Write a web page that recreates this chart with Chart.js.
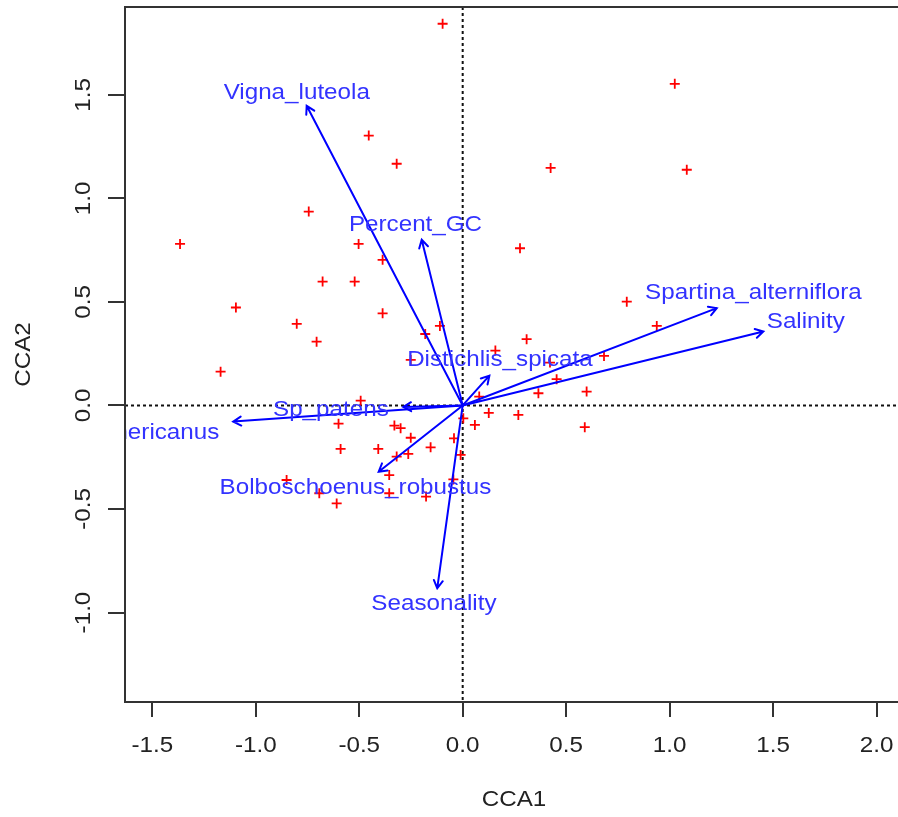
<!DOCTYPE html>
<html>
<head>
<meta charset="utf-8">
<script src="https://cdn.jsdelivr.net/npm/chart.js@4.4.0/dist/chart.umd.min.js"></script>
<style>
  html, body { margin: 0; padding: 0; background: #fff; overflow: hidden; width: 898px; height: 817px; }
  canvas { display: block; }
</style>
</head>
<body>
<canvas id="cca" width="920" height="817"></canvas>
<script>
// Site scores (CCA1, CCA2)
const siteX = [-0.097, -0.454, -0.319, -0.744, -1.366, -0.503, 1.025, 0.425, 1.083, 0.277,
  -0.387, -0.677, -0.522, -1.096, -0.387, -0.802, -0.706, -0.181, -0.110, -1.170,
  0.158, -0.251, -0.493, 0.080, 0.126, -0.600, -0.330, -0.300, 0.003, 0.059,
  -0.251, -0.042, -0.590, -0.408, -0.155, -0.263, -0.010, -0.319, -0.355, -0.045,
  -0.693, -0.355, -0.851, -0.177, -0.609, 0.590, 0.793, 0.938, 0.309, 0.683,
  0.422, 0.454, 0.366, 0.599, 0.269];
const siteY = [1.843, 1.303, 1.167, 0.936, 0.780, 0.780, 1.553, 1.147, 1.138, 0.759,
  0.703, 0.598, 0.598, 0.473, 0.445, 0.394, 0.308, 0.345, 0.384, 0.163,
  0.265, 0.220, 0.023, 0.043, -0.036, -0.088, -0.097, -0.110, -0.062, -0.094,
  -0.156, -0.159, -0.210, -0.210, -0.202, -0.234, -0.239, -0.247, -0.336, -0.357,
  -0.424, -0.424, -0.360, -0.440, -0.473, -0.105, 0.501, 0.384, 0.320, 0.239,
  0.207, 0.127, 0.059, 0.067, -0.046];

// Biplot arrows for the constraining variables
const envNames = ['Vigna_luteola', 'Percent_GC', 'Spartina_alterniflora', 'Salinity',
  'Distichlis_spicata', 'Sp_patens', 'Schoenoplectus_americanus', 'Bolboschoenus_robustus', 'Seasonality'];
const envX = [-0.754, -0.198, 1.228, 1.453, 0.129, -0.287, -1.109, -0.406, -0.123];
const envY = [1.447, 0.800, 0.470, 0.357, 0.144, -0.007, -0.078, -0.320, -0.883];
// Label centres for each arrow
const labelX = [-0.802, -0.228, 1.405, 1.658, 0.180, -0.637, -1.927, -0.518, -0.139];
const labelY = [1.508, 0.872, 0.542, 0.405, 0.220, -0.022, -0.135, -0.400, -0.960];

const xTicks = [-1.5, -1.0, -0.5, 0.0, 0.5, 1.0, 1.5, 2.0];
const yTicks = [-1.0, -0.5, 0.0, 0.5, 1.0, 1.5];

const FONT = '22px "Liberation Sans", Arial, sans-serif';
const STRETCH = 1.1;
const INK = '#222222';
const ARROW = '#0000ff';
const LABEL = '#3333ff';

function drawText(ctx, str, x, y, rot) {
  ctx.save();
  ctx.translate(x, y);
  if (rot) ctx.rotate(rot);
  ctx.scale(STRETCH, 1);
  ctx.fillText(str, 0, 0);
  ctx.restore();
}

const biplot = {
  id: 'biplot',
  beforeDatasetsDraw(chart) {
    const { ctx, chartArea: a, scales: { x, y } } = chart;
    ctx.save();
    ctx.beginPath();
    ctx.rect(a.left, a.top, a.right - a.left, a.bottom - a.top);
    ctx.clip();
    ctx.strokeStyle = '#111111';
    ctx.lineWidth = 2;
    ctx.setLineDash([3, 3]);
    const x0 = x.getPixelForValue(0), y0 = y.getPixelForValue(0);
    ctx.beginPath();
    ctx.moveTo(x0, a.top); ctx.lineTo(x0, a.bottom);
    ctx.moveTo(a.left, y0); ctx.lineTo(a.right, y0);
    ctx.stroke();
    ctx.restore();
  },
  afterDatasetsDraw(chart) {
    const { ctx, chartArea: a, scales: { x, y } } = chart;
    ctx.save();
    ctx.beginPath();
    ctx.rect(a.left, a.top, a.right - a.left, a.bottom - a.top);
    ctx.clip();
    const ox = x.getPixelForValue(0), oy = y.getPixelForValue(0);
    ctx.strokeStyle = ARROW;
    ctx.lineWidth = 2;
    ctx.lineCap = 'round';
    for (let i = 0; i < envNames.length; i++) {
      const tx = x.getPixelForValue(envX[i]), ty = y.getPixelForValue(envY[i]);
      const ang = Math.atan2(ty - oy, tx - ox);
      const h = 9, spread = Math.PI / 6;
      ctx.beginPath();
      ctx.moveTo(ox, oy); ctx.lineTo(tx, ty);
      ctx.moveTo(tx - h * Math.cos(ang - spread), ty - h * Math.sin(ang - spread));
      ctx.lineTo(tx, ty);
      ctx.lineTo(tx - h * Math.cos(ang + spread), ty - h * Math.sin(ang + spread));
      ctx.stroke();
    }
    ctx.fillStyle = LABEL;
    ctx.font = FONT;
    ctx.textAlign = 'center';
    ctx.textBaseline = 'middle';
    for (let i = 0; i < envNames.length; i++) {
      drawText(ctx, envNames[i], x.getPixelForValue(labelX[i]), y.getPixelForValue(labelY[i]), 0);
    }
    ctx.restore();
  },
  afterDraw(chart) {
    const { ctx, chartArea: a, scales: { x, y } } = chart;
    ctx.save();
    ctx.strokeStyle = '#333333';
    ctx.lineWidth = 2;
    ctx.strokeRect(a.left, a.top, a.right - a.left, a.bottom - a.top);
    ctx.fillStyle = INK;
    ctx.font = FONT;
    ctx.textAlign = 'center';
    ctx.textBaseline = 'middle';
    xTicks.forEach(v => drawText(ctx, v.toFixed(1), x.getPixelForValue(v), a.bottom + 44, 0));
    yTicks.forEach(v => drawText(ctx, v.toFixed(1), 84, y.getPixelForValue(v), -Math.PI / 2));
    drawText(ctx, 'CCA1', (a.left + a.right) / 2, 800, 0);
    drawText(ctx, 'CCA2', 24, (a.top + a.bottom) / 2, -Math.PI / 2);
    ctx.restore();
  }
};

const tickGrid = (len) => ({
  drawOnChartArea: false,
  drawTicks: true,
  tickLength: len,
  color: '#333333',
  lineWidth: 2
});

new Chart(document.getElementById('cca'), {
  type: 'scatter',
  data: {
    datasets: [{
      label: 'sites',
      data: siteX.map((v, i) => ({ x: v, y: siteY[i] })),
      pointStyle: 'cross',
      pointRadius: 5,
      pointHoverRadius: 5,
      borderColor: '#ff0000',
      backgroundColor: '#ff0000',
      borderWidth: 1.8
    }]
  },
  options: {
    responsive: false,
    animation: false,
    devicePixelRatio: 1,
    layout: { padding: { top: 7, right: 17, left: 0, bottom: 0 } },
    plugins: { legend: { display: false }, tooltip: { enabled: false } },
    scales: {
      x: {
        type: 'linear',
        min: -1.632,
        max: 2.128,
        afterBuildTicks: s => { s.ticks = xTicks.map(v => ({ value: v })); },
        afterFit: s => { s.height = 115; },
        ticks: { display: false },
        grid: tickGrid(15),
        border: { display: false }
      },
      y: {
        type: 'linear',
        min: -1.432,
        max: 1.924,
        afterBuildTicks: s => { s.ticks = yTicks.map(v => ({ value: v })); },
        afterFit: s => { s.width = 125; },
        ticks: { display: false },
        grid: tickGrid(17),
        border: { display: false }
      }
    }
  },
  plugins: [biplot]
});
</script>
</body>
</html>
